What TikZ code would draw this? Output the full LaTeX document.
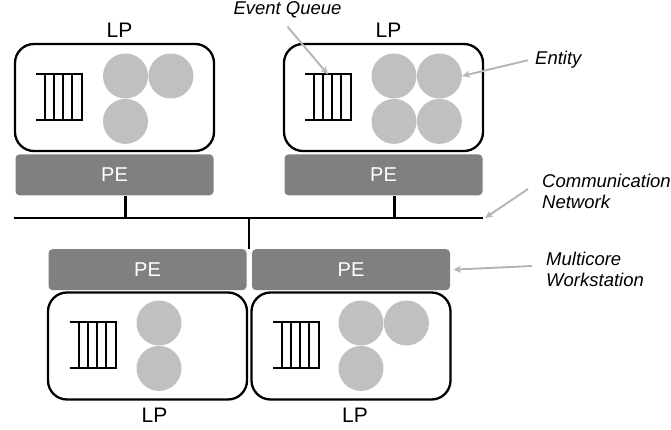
\documentclass[tikz,border=0pt]{standalone}
\usepackage{fontspec}
\setmainfont{Liberation Sans}
\usetikzlibrary{positioning,arrows.meta}

\definecolor{pegray}{HTML}{808080}
\definecolor{entgray}{HTML}{C0C0C0}
\definecolor{notegray}{HTML}{B4B4B4}

\tikzset{
    lpbox/.style={draw, line width=2.3pt, rounded corners=19pt, minimum width=199pt, minimum height=107pt},
    pebox/.style={fill=pegray, rounded corners=4pt, minimum width=198pt, minimum height=41pt, text=white, font=\fontsize{20}{22}\selectfont},
    lplabel/.style={font=\fontsize{21}{24}\selectfont, inner sep=0pt, anchor=base},
    entity/.style={circle, fill=entgray, minimum size=45pt, inner sep=0pt},
    note/.style={font=\itshape\fontsize{18.5}{21}\selectfont, inner sep=0pt, align=left},
    callout/.style={draw=notegray, line width=1.9pt, -{Stealth[length=8pt,width=7pt]}},
    wire/.style={line width=2.3pt},
    pics/evqueue/.style={code={
        \draw[line width=2pt] (-23,-23) -- (23,-23) -- (23,23) -- (-23,23);
        \foreach \qx in {-14,-5,4,13} \draw[line width=2pt] (\qx,-23) -- (\qx,23);
        \coordinate (-top) at (0,-23);
    }}
}

\begin{document}
\begin{tikzpicture}[x=1pt, y=-1pt]
        \useasboundingbox (0,0) rectangle (671,430);

        % logical processes
        \node[lpbox] (lpA) at (114.5,97.5) {};
        \node[lpbox] (lpB) at (383.5,97.5) {};
        \node[lpbox] (lpC) at (147.5,346) {};
        \node[lpbox] (lpD) at (351,346) {};

        \node[lplabel] (lpAlab) at ([xshift=5pt,yshift=5pt]lpA.north) {LP};
        \node[lplabel] (lpBlab) at ([xshift=5pt,yshift=5pt]lpB.north) {LP};
        \node[lplabel] (lpClab) at ([xshift=7pt,yshift=-22pt]lpC.south) {LP};
        \node[lplabel] (lpDlab) at ([xshift=4pt,yshift=-22pt]lpD.south) {LP};

        % processing elements
        \node[pebox, below=2pt of lpA] (peA) {PE};
        \node[pebox, below=2pt of lpB] (peB) {PE};
        \node[pebox, above=1pt of lpC] (peC) {PE};
        \node[pebox, above=1pt of lpD] (peD) {PE};

        % event queues
        \pic (qA) at ([xshift=-55.5pt]lpA.center) {evqueue};
        \pic (qB) at ([xshift=-55.5pt]lpB.center) {evqueue};
        \pic (qC) at ([xshift=-55pt,yshift=1.5pt]lpC.center) {evqueue};
        \pic (qD) at ([xshift=-55pt,yshift=1.5pt]lpD.center) {evqueue};

        % entities
        \node[entity] (eA1) at ([xshift=11pt,yshift=21.5pt]lpA.center) {};
        \node[entity, right=0pt of eA1] (eA2) {};
        \node[entity, below=0pt of eA1] (eA3) {};

        \node[entity] (eB1) at ([xshift=10.5pt,yshift=21.5pt]lpB.center) {};
        \node[entity, right=0pt of eB1] (eB2) {};
        \node[entity, below=0pt of eB1] (eB3) {};
        \node[entity, right=0pt of eB3] (eB4) {};

        \node[entity] (eC1) at ([xshift=11.5pt,yshift=23pt]lpC.center) {};
        \node[entity, below=0pt of eC1] (eC2) {};

        \node[entity] (eD1) at ([xshift=10pt,yshift=23pt]lpD.center) {};
        \node[entity, right=0pt of eD1] (eD2) {};
        \node[entity, below=0pt of eD1] (eD3) {};

        % network
        \coordinate (netW) at (14,218);
        \coordinate (netE) at (483,218);
        \coordinate (netM) at (249,218);
        \draw[wire, line width=2.9pt] (netW) -- (netE);
        \draw[wire] ([xshift=11pt]peA.south) -- ([xshift=11pt]peA.south |- netW);
        \draw[wire] ([xshift=11pt]peB.south) -- ([xshift=11pt]peB.south |- netW);
        \draw[wire] (netM) -- (netM |- peC.north);

        % notes
        \node[note, anchor=base] (evq) at (287.5,15) {Event Queue};
        \node[note, anchor=base west] (ent) at (535,65) {Entity};
        \node[note, anchor=west] (comm) at (542,191) {Communication\\Network};
        \node[note, anchor=west] (multi) at (546,269) {Multicore\\Workstation};

        \draw[callout] ([yshift=-8pt]evq.south) -- (qB-top);
        \draw[callout] ([xshift=-7pt]ent.west) -- (eB2.east);
        \draw[callout] ([xshift=-14pt,yshift=2pt]comm.west) -- ([xshift=2pt]netE);
        \draw[callout] ([xshift=-14pt,yshift=3pt]multi.west) -- ([xshift=3pt]peD.east);
    \end{tikzpicture}
\end{document}
